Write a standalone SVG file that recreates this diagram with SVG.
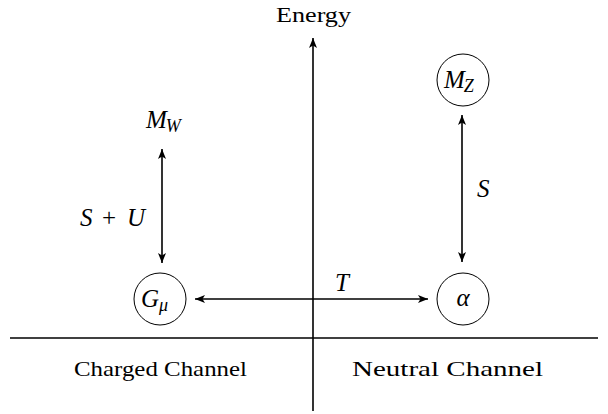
<svg xmlns="http://www.w3.org/2000/svg" width="608" height="414" viewBox="0 0 608 414">
<style>
text{font-family:"Liberation Serif","DejaVu Serif",serif;fill:#000}
.t{font-size:22px}
.m{font-size:25px;font-style:italic}
.r{font-style:normal}
.sub{font-size:18px;font-style:italic}
.ln{stroke:#000;stroke-width:1.6;fill:none}
.c{stroke:#000;stroke-width:1;fill:#fff}
</style>
<defs>
<marker id="ah" viewBox="0 0 10 8" refX="10" refY="4" markerWidth="10" markerHeight="8" markerUnits="userSpaceOnUse" orient="auto-start-reverse">
<path d="M0,0 L10,4 L0,8 L2.5,4 Z" fill="#000"/>
</marker>
</defs>
<rect width="608" height="414" fill="#fff"/>
<g id="connectors">
<line class="ln" x1="10" y1="338" x2="598" y2="338"/>
<line class="ln" x1="313" y1="411" x2="313" y2="38" marker-end="url(#ah)"/>
<line class="ln" x1="162" y1="149" x2="162" y2="263" marker-start="url(#ah)" marker-end="url(#ah)"/>
<line class="ln" x1="462" y1="115" x2="462" y2="262" marker-start="url(#ah)" marker-end="url(#ah)"/>
<line class="ln" x1="195" y1="299" x2="428" y2="299" marker-start="url(#ah)" marker-end="url(#ah)"/>
<text class="m" x="477" y="197">S</text>
<text class="m" y="226"><tspan x="80">S</tspan><tspan class="r" x="102">+</tspan><tspan x="127">U</tspan></text>
<text class="m" x="335" y="291">T</text>
</g>
<g id="energy"><text class="t" x="276" y="22" textLength="75" lengthAdjust="spacingAndGlyphs">Energy</text></g>
<g id="mz">
<circle class="c" cx="463" cy="80" r="26"/>
<text class="m" x="444" y="88">M<tspan class="sub" dx="-1" dy="4">Z</tspan></text>
</g>
<g id="mw">
<text class="m" x="146" y="128">M<tspan class="sub" dx="-1" dy="4">W</tspan></text>
</g>
<g id="gmu">
<circle class="c" cx="160" cy="299" r="26"/>
<text class="m" x="141" y="307">G<tspan class="sub" dy="4">μ</tspan></text>
</g>
<g id="alpha">
<circle class="c" cx="463" cy="299" r="26"/>
<text class="m" x="463" y="306" text-anchor="middle">α</text>
</g>
<g id="labels">
<text class="t" x="74" y="376" textLength="173" lengthAdjust="spacingAndGlyphs">Charged Channel</text>
<text class="t" x="352" y="376" textLength="191" lengthAdjust="spacingAndGlyphs">Neutral Channel</text>
</g>
</svg>
